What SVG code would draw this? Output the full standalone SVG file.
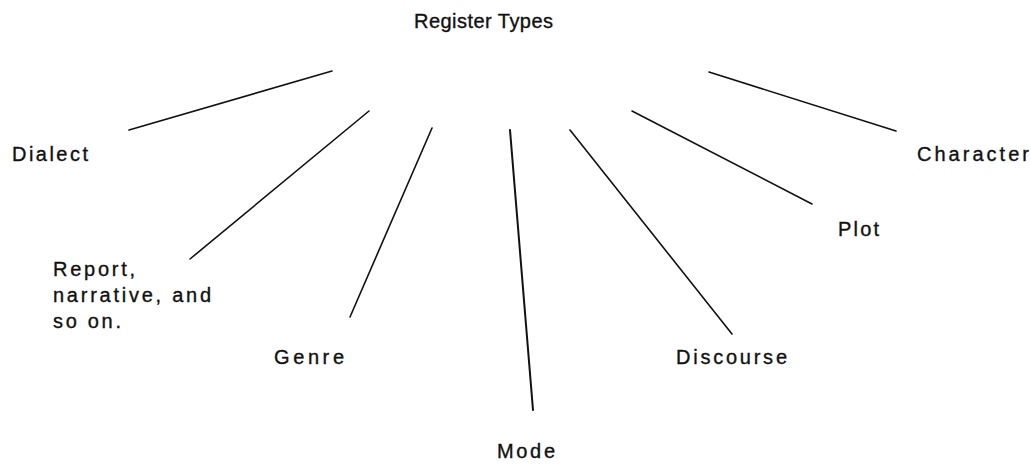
<svg xmlns="http://www.w3.org/2000/svg" width="1031" height="466" viewBox="0 0 1031 466">
<style>
.t{font-family:"Liberation Sans",Arial,sans-serif;font-size:20px;fill:#111;stroke:#111;stroke-width:0.35}
.c line{stroke:#111;stroke-width:1.6;stroke-linecap:round}
</style>
<rect width="1031" height="466" fill="#fff"/>
<g class="c" id="connectors">
<line x1="129" y1="130" x2="332" y2="71"/>
<line x1="190" y1="259" x2="369" y2="111"/>
<line x1="350" y1="317" x2="432" y2="128"/>
<line x1="510" y1="130" x2="533" y2="410" style="stroke-width:2"/>
<line x1="570" y1="130" x2="732" y2="334"/>
<line x1="632" y1="111" x2="812" y2="204"/>
<line x1="709" y1="72" x2="896" y2="131"/>
</g>
<g id="register-types"><text class="t" x="414" y="28" textLength="139" lengthAdjust="spacing">Register Types</text></g>
<g id="dialect"><text class="t" x="12" y="161" textLength="76" lengthAdjust="spacing">Dialect</text></g>
<g id="report"><text class="t" x="53" y="276" textLength="82" lengthAdjust="spacing">Report,</text><text class="t" x="53" y="302" textLength="158" lengthAdjust="spacing">narrative, and</text><text class="t" x="53" y="328" textLength="68" lengthAdjust="spacing">so on.</text></g>
<g id="genre"><text class="t" x="274" y="364" textLength="70" lengthAdjust="spacing">Genre</text></g>
<g id="mode"><text class="t" x="497" y="458" textLength="58" lengthAdjust="spacing">Mode</text></g>
<g id="discourse"><text class="t" x="676" y="364" textLength="111" lengthAdjust="spacing">Discourse</text></g>
<g id="plot"><text class="t" x="838" y="236" textLength="41" lengthAdjust="spacing">Plot</text></g>
<g id="character"><text class="t" x="917" y="161" textLength="112" lengthAdjust="spacing">Character</text></g>
</svg>
